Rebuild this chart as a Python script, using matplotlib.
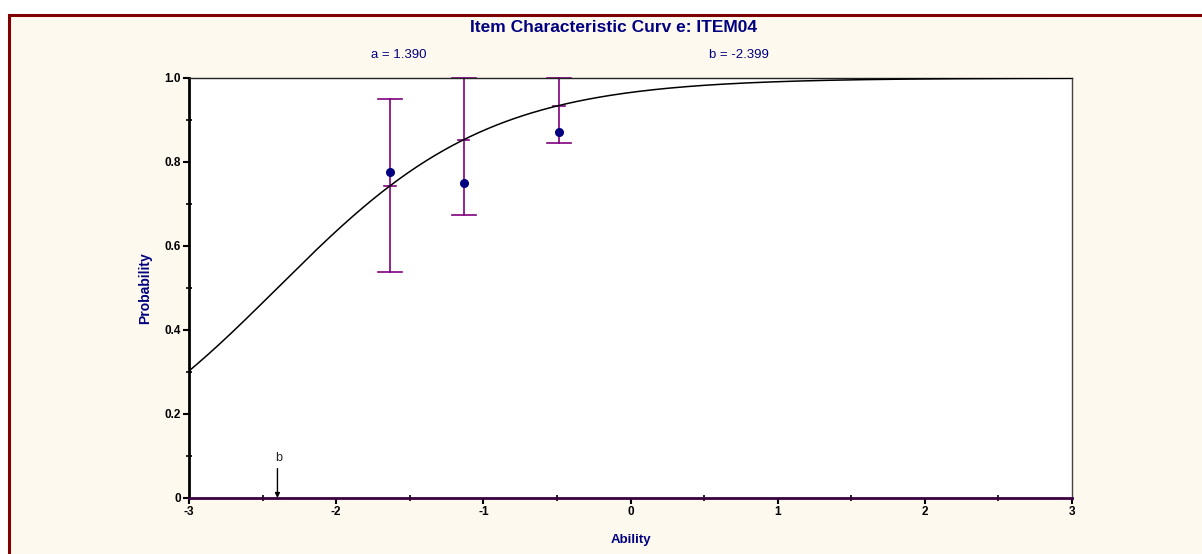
import numpy as np
import matplotlib.pyplot as plt
from matplotlib.patches import Rectangle

# item parameters shown on the chart
item_name = "ITEM04"
a_param = 1.390
b_param = -2.399

# observed proportions per ability group
group_ability = [-1.633, -1.134, -0.488]
group_observed = [0.776, 0.749, 0.871]
group_halfwidth = [0.206, 0.179, 0.089]

x_ticks = [-3, -2, -1, 0, 1, 2, 3]
x_labels = ["-3", "-2", "-1", "0", "1", "2", "3"]
y_ticks = [0, 0.2, 0.4, 0.6, 0.8, 1.0]
y_labels = ["0", "0.2", "0.4", "0.6", "0.8", "1.0"]

navy = "#000080"
purple = "#800080"
cream = "#FEF9EF"

plt.rcParams['font.family'] = ['Liberation Sans', 'DejaVu Sans']

fig = plt.figure(figsize=(12.02, 5.54), dpi=100)
fig.patch.set_facecolor("white")

# cream panel with dark red frame on the left / top
fig.patches.append(Rectangle((8.5 / 1202, -0.1), 1.2, 1 - 14.5 / 554 + 0.1,
                             transform=fig.transFigure, facecolor=cream,
                             edgecolor="#800000", linewidth=2.2, zorder=-10))

ax = fig.add_axes([189 / 1202, 1 - 498 / 554, (1072 - 189) / 1202, (498 - 78) / 554])
ax.set_zorder(2)
ax.set_facecolor("white")

# model curve from a, b (logistic, no scaling constant)
theta = np.linspace(-3, 3, 400)
icc = 1 / (1 + np.exp(-a_param * (theta - b_param)))
ax.plot(theta, icc, color="black", lw=1.1, zorder=3)

# error bars centred on the model value, clipped to [0, 1]
for xg, yo, hw in zip(group_ability, group_observed, group_halfwidth):
    pm = 1 / (1 + np.exp(-a_param * (xg - b_param)))
    lo = max(pm - hw, 0)
    hi = min(pm + hw, 1)
    ax.plot([xg, xg], [lo, hi], color=purple, lw=1.2, zorder=2, clip_on=False)
    for yy in (lo, hi):
        ax.plot([xg - 0.082, xg + 0.082], [yy, yy], color=purple, lw=1.2, zorder=2, clip_on=False)
    ax.plot([xg - 0.04, xg + 0.04], [pm, pm], color=purple, lw=1.2, zorder=2)
    ax.plot(xg, yo, 'o', color=navy, ms=5.5, zorder=4)

ax.set_xlim(-3, 3)
ax.set_ylim(0, 1)
ax.set_xticks(x_ticks)
ax.set_xticklabels(x_labels)
ax.set_yticks(y_ticks)
ax.set_yticklabels(y_labels)
ax.set_xticks(np.arange(-2.5, 3, 1.0), minor=True)
ax.set_yticks(np.arange(0.1, 1.0, 0.2), minor=True)
ax.tick_params(which='major', direction='out', length=4, width=1.5, pad=2,
               labelsize=8.5, colors="black")
ax.tick_params(which='minor', direction='inout', length=4, width=1.2)
for lab in ax.get_xticklabels() + ax.get_yticklabels():
    lab.set_fontweight("bold")

ax.spines['left'].set_linewidth(2)
ax.spines['left'].set_color("black")
ax.spines['bottom'].set_linewidth(2)
ax.spines['bottom'].set_color("#3a0040")
ax.spines['top'].set_linewidth(1)
ax.spines['top'].set_color("#222222")
ax.spines['right'].set_linewidth(1)
ax.spines['right'].set_color("#444444")

ax.set_xlabel("Ability", color=navy, fontweight="bold", fontsize=9.5, labelpad=11)
ax.set_ylabel("Probability", color=navy, fontweight="bold", fontsize=10, labelpad=9)

# b marker arrow
ax.annotate("", xy=(b_param, 0), xytext=(b_param, 0.07),
            arrowprops=dict(arrowstyle="-|>", color="black", lw=1, mutation_scale=7,
                            shrinkA=0, shrinkB=0))
ax.text(b_param + 0.01, 0.095, "b", ha="center", va="center", fontsize=9, color="#222222")

fig.text(614 / 1202, 1 - 27.5 / 554, "Item Characteristic Curv e: " + item_name,
         ha="center", va="center", color=navy, fontweight="bold", fontsize=12.5)
fig.text(399 / 1202, 1 - 55 / 554, "a = %.3f" % a_param, ha="center", va="center",
         color=navy, fontsize=9.5)
fig.text(739 / 1202, 1 - 55 / 554, "b = %.3f" % b_param, ha="center", va="center",
         color=navy, fontsize=9.5)

fig.savefig("out.png", dpi=100)
